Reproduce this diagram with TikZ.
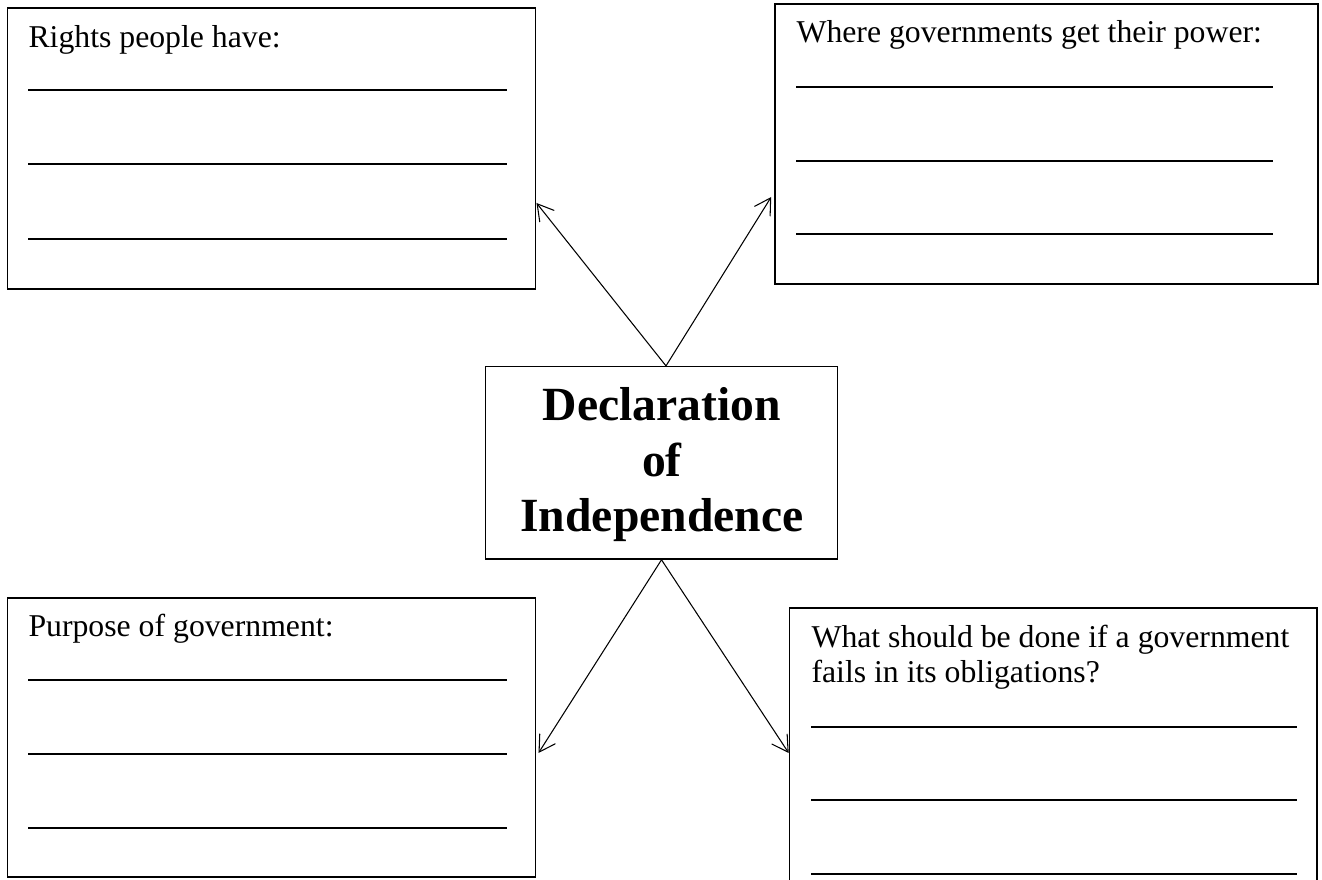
\documentclass[tikz,border=0pt]{standalone}
\usepackage{fontspec}
\setmainfont{Liberation Serif}
\usetikzlibrary{arrows.meta,calc,fit}

\tikzset{
  box/.style={draw, line width=0.6pt, inner sep=0pt},
  heading/.style={anchor=base west, inner sep=0pt, align=left, font=\fontsize{12}{13.6}\selectfont},
  blank/.style={line width=0.5pt},
  link/.style={line width=0.4pt, -{Straight Barb[length=6pt,width=7pt]}}
}

\begin{document}
\begin{tikzpicture}[x=0.378pt,y=-0.378pt]
\useasboundingbox (0,0) rectangle (1322,880);
\clip (0,0) rectangle (1322,880);
% answer boxes
\node[box, fit={(7.5,8) (535.7,289)}] (rights) {};
\node[box, fit={(775,4) (1318,284)}] (power) {};
\node[box, fit={(7.5,598) (535.7,877)}] (purpose) {};
\node[box, fit={(789.5,608) (1317,882)}] (fails) {};
% questions (base = last line)
\node[heading] (rightsq) at (28,48) {Rights people have:};
\node[heading] (powerq) at (796,43) {Where governments get their power:};
\node[heading] (purposeq) at (28,637) {Purpose of government:};
\node[heading] (failsq) at (811,683) {What should be done if a government\\fails in its obligations?};
% lines to write on
\foreach \y in {90,164,239} \draw[blank] (28,\y) -- (507,\y);
\foreach \y in {87,161,234} \draw[blank] (796,\y) -- (1273,\y);
\foreach \y in {680,754,828} \draw[blank] (28,\y) -- (507,\y);
\foreach \y in {727,800,874} \draw[blank] (811,\y) -- (1297,\y);
% centre
\node[box, fit={(485.7,366.7) (837.3,559)}] (decl) {};
\node[anchor=base, inner sep=0pt, align=center,
  font=\fontsize{18}{21}\selectfont\bfseries] (declt) at (662,531.7) {Declaration\\of\\Independence};
\draw[link] ([xshift=1.7pt]decl.north) -- ($(rights.east)+(0,54.5)$);
\draw[link] ([xshift=1.7pt]decl.north) -- ($(power.west)+(-3,53)$);
\draw[link] (decl.south) -- ($(purpose.east)+(2,15.5)$);
\draw[link] (decl.south) -- ($(fails.west)+(0,8)$);
\end{tikzpicture}
\end{document}
